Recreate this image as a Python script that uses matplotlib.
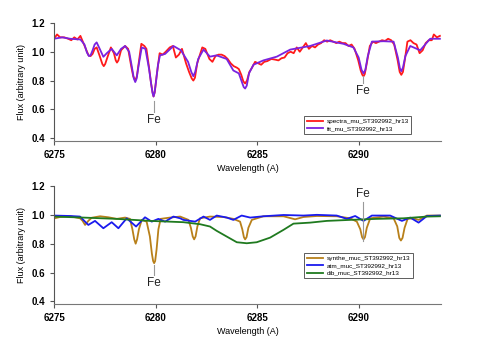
import matplotlib
matplotlib.use("Agg")
import matplotlib.pyplot as plt

# ---------------- data ----------------
spec_wl = [6275.0, 6275.15, 6275.3, 6275.5, 6275.7, 6275.85, 6276.0, 6276.15, 6276.3, 6276.45,
           6276.6, 6276.7, 6276.8, 6276.9, 6277.0, 6277.1, 6277.25, 6277.38, 6277.45, 6277.52,
           6277.65, 6277.8, 6277.95, 6278.04, 6278.1, 6278.17, 6278.3, 6278.5, 6278.65, 6278.8,
           6278.9, 6279.0, 6279.08, 6279.18, 6279.3, 6279.45, 6279.55, 6279.68, 6279.78, 6279.85,
           6279.9, 6279.96, 6280.05, 6280.2, 6280.35, 6280.5, 6280.7, 6280.85, 6281.0, 6281.15,
           6281.3, 6281.5, 6281.65, 6281.78, 6281.86, 6281.94, 6282.05, 6282.3, 6282.45, 6282.65,
           6282.8, 6282.95, 6283.1, 6283.25, 6283.4, 6283.55, 6283.7, 6283.85, 6284.0, 6284.1,
           6284.22, 6284.32, 6284.41, 6284.5, 6284.62, 6284.75, 6284.9, 6285.05, 6285.2, 6285.35,
           6285.5, 6285.7, 6285.9, 6286.05, 6286.2, 6286.35, 6286.5, 6286.65, 6286.8, 6286.95,
           6287.1, 6287.25, 6287.4, 6287.55, 6287.7, 6287.85, 6288.0, 6288.15, 6288.3, 6288.45,
           6288.6, 6288.75, 6288.9, 6289.05, 6289.2, 6289.35, 6289.5, 6289.65, 6289.8, 6289.98,
           6290.1, 6290.18, 6290.24, 6290.3, 6290.4, 6290.55, 6290.7, 6290.85, 6291.0, 6291.15,
           6291.3, 6291.45, 6291.6, 6291.75, 6291.92, 6292.02, 6292.1, 6292.18, 6292.28, 6292.4,
           6292.55, 6292.7, 6292.85, 6293.0, 6293.15, 6293.3, 6293.45, 6293.6, 6293.7, 6293.85,
           6294.0]
spec_flux = [1.09, 1.12, 1.10, 1.10, 1.09, 1.08, 1.10, 1.085, 1.11, 1.06,
             1.01, 0.975, 0.97, 0.985, 1.02, 1.03, 0.97, 0.915, 0.90, 0.915,
             0.97, 1.03, 0.99, 0.94, 0.925, 0.94, 1.01, 1.04, 1.02, 0.90,
             0.83, 0.80, 0.83, 0.93, 1.055, 1.04, 1.02, 0.89, 0.78, 0.72,
             0.69, 0.72, 0.83, 0.99, 0.98, 1.00, 1.03, 1.04, 0.96, 0.98,
             1.02, 0.92, 0.86, 0.815, 0.80, 0.82, 0.92, 1.03, 1.02, 0.95,
             0.93, 0.97, 0.98, 0.98, 0.97, 0.95, 0.92, 0.90, 0.89, 0.88,
             0.84, 0.795, 0.78, 0.80, 0.86, 0.89, 0.93, 0.92, 0.91, 0.93,
             0.935, 0.95, 0.945, 0.94, 0.955, 0.96, 0.99, 1.00, 0.99, 1.03,
             1.00, 1.03, 1.06, 1.02, 1.04, 1.03, 1.05, 1.06, 1.08, 1.07,
             1.08, 1.07, 1.06, 1.07, 1.06, 1.06, 1.04, 1.05, 1.02, 0.94,
             0.87, 0.84, 0.83, 0.845, 0.92, 1.04, 1.07, 1.06, 1.07, 1.08,
             1.075, 1.09, 1.08, 1.05, 0.94, 0.86, 0.84, 0.86, 0.95, 1.07,
             1.08, 1.06, 1.05, 0.99, 1.01, 1.06, 1.08, 1.08, 1.12, 1.10,
             1.11]

fit_wl = [6275.0, 6275.4, 6275.8, 6276.3, 6276.5, 6276.62, 6276.72, 6276.8, 6276.9, 6277.0,
          6277.1, 6277.25, 6277.43, 6277.6, 6277.84, 6278.09, 6278.3, 6278.5, 6278.7, 6278.84,
          6278.93, 6279.0, 6279.07, 6279.16, 6279.32, 6279.5, 6279.68, 6279.78, 6279.85, 6279.9,
          6279.95, 6280.02, 6280.12, 6280.22, 6280.47, 6280.88, 6281.25, 6281.6, 6281.76, 6281.86,
          6281.95, 6282.1, 6282.36, 6282.68, 6283.0, 6283.5, 6283.83, 6284.1, 6284.25, 6284.34,
          6284.41, 6284.49, 6284.6, 6284.82, 6285.31, 6285.97, 6286.63, 6287.61, 6288.43, 6289.25,
          6289.74, 6290.0, 6290.14, 6290.24, 6290.33, 6290.45, 6290.65, 6291.22, 6291.72, 6291.93,
          6292.03, 6292.1, 6292.18, 6292.3, 6292.54, 6293.03, 6293.52, 6294.0]
fit_flux = [1.09, 1.10, 1.09, 1.085, 1.05, 0.995, 0.97, 0.975, 1.01, 1.05,
            1.065, 1.02, 0.965, 0.99, 1.02, 0.975, 1.02, 1.04, 1.00, 0.89,
            0.815, 0.79, 0.815, 0.90, 1.03, 1.02, 0.88, 0.78, 0.715, 0.69,
            0.715, 0.79, 0.91, 0.975, 0.985, 1.04, 1.01, 0.93, 0.86, 0.83,
            0.86, 0.95, 1.015, 0.966, 0.975, 0.95, 0.87, 0.85, 0.79, 0.755,
            0.745, 0.765, 0.85, 0.91, 0.94, 0.966, 1.015, 1.04, 1.078, 1.055,
            1.03, 0.96, 0.875, 0.85, 0.875, 0.97, 1.07, 1.073, 1.07, 0.96,
            0.885, 0.865, 0.89, 0.97, 1.04, 1.01, 1.09, 1.09]

synthe_wl = [6275.0, 6275.3, 6275.8, 6276.28, 6276.4, 6276.53, 6276.7, 6276.86, 6277.27, 6277.68,
             6278.09, 6278.5, 6278.74, 6278.86, 6278.95, 6279.02, 6279.09, 6279.18, 6279.32, 6279.56,
             6279.72, 6279.82, 6279.88, 6279.93, 6279.98, 6280.05, 6280.14, 6280.25, 6280.71, 6281.21,
             6281.62, 6281.74, 6281.83, 6281.9, 6281.97, 6282.06, 6282.19, 6282.68, 6283.34, 6283.83,
             6284.16, 6284.27, 6284.35, 6284.41, 6284.48, 6284.57, 6284.74, 6285.31, 6286.3, 6286.87,
             6287.28, 6287.94, 6288.92, 6289.58, 6289.91, 6290.08, 6290.17, 6290.24, 6290.31, 6290.4,
             6290.57, 6291.22, 6291.72, 6291.9, 6292.0, 6292.08, 6292.16, 6292.26, 6292.41, 6292.7,
             6292.95, 6293.36, 6294.0]
synthe_flux = [0.975, 0.985, 0.99, 0.976, 0.96, 0.93, 0.96, 0.98, 0.99, 0.983,
               0.972, 0.981, 0.972, 0.90, 0.83, 0.80, 0.83, 0.90, 0.965, 0.953,
               0.85, 0.73, 0.68, 0.665, 0.68, 0.76, 0.90, 0.972, 0.981, 0.988,
               0.965, 0.91, 0.85, 0.83, 0.85, 0.92, 0.976, 0.988, 0.985, 0.972,
               0.953, 0.90, 0.845, 0.83, 0.845, 0.91, 0.965, 0.99, 0.99, 0.969,
               0.985, 0.992, 0.99, 0.976, 0.953, 0.90, 0.845, 0.83, 0.845, 0.91,
               0.976, 0.988, 0.976, 0.92, 0.84, 0.822, 0.84, 0.91, 0.972, 0.976,
               0.965, 0.995, 0.995]

atm_wl = [6275.0, 6275.79, 6276.28, 6276.69, 6277.02, 6277.43, 6277.84, 6278.17, 6278.58, 6279.04,
          6279.48, 6279.81, 6280.14, 6280.47, 6280.88, 6281.21, 6281.37, 6281.95, 6282.36, 6282.68,
          6283.01, 6283.51, 6283.83, 6284.24, 6284.66, 6285.31, 6286.3, 6287.28, 6287.94, 6288.92,
          6289.42, 6289.83, 6290.24, 6290.65, 6291.55, 6292.13, 6292.54, 6292.95, 6293.36, 6294.0]
atm_flux = [0.995, 0.992, 0.988, 0.93, 0.958, 0.907, 0.949, 0.907, 0.976, 0.919,
            0.983, 0.953, 0.972, 0.953, 0.988, 0.976, 0.965, 0.953, 0.988, 0.965,
            0.995, 0.981, 0.965, 0.995, 0.981, 0.99, 0.999, 0.995, 1.0, 0.995,
            0.972, 0.992, 0.958, 0.995, 0.995, 0.958, 0.981, 0.946, 0.992, 0.995]

dib_wl = [6275.0, 6276.44, 6278.09, 6279.73, 6281.37, 6282.19, 6282.68, 6283.01, 6283.51, 6284.0,
          6284.49, 6284.98, 6285.64, 6286.3, 6286.79, 6287.61, 6288.43, 6289.58, 6290.89, 6292.21,
          6293.36, 6294.0]
dib_flux = [0.988, 0.981, 0.972, 0.958, 0.949, 0.935, 0.919, 0.889, 0.849, 0.81,
            0.803, 0.81, 0.842, 0.896, 0.939, 0.946, 0.958, 0.965, 0.972, 0.976,
            0.988, 0.99]

x_ticks = [6275, 6280, 6285, 6290]
y_ticks = [0.4, 0.6, 0.8, 1.0, 1.2]
fe_lines = [6279.9, 6290.2]

# ---------------- figure ----------------
plt.rcParams['font.family'] = ['Liberation Sans', 'DejaVu Sans']
fig = plt.figure(figsize=(4.91, 3.47), dpi=100)
ax1 = fig.add_axes([0.110, 0.594, 0.788, 0.340])
ax2 = fig.add_axes([0.110, 0.124, 0.788, 0.340])

lw = 1.3
ax1.plot(spec_wl, spec_flux, color='#ff1a1a', lw=lw, label='spectra_mu_ST392992_hr13')
ax1.plot(fit_wl, fit_flux, color='#7a22e0', lw=lw, label='fit_mu_ST392992_hr13')

ax2.plot(synthe_wl, synthe_flux, color='#b8801a', lw=lw, label='synthe_muc_ST392992_hr13')
ax2.plot(atm_wl, atm_flux, color='#1a1aee', lw=lw, label='atm_muc_ST392992_hr13')
ax2.plot(dib_wl, dib_flux, color='#1f7a1f', lw=lw, label='dib_muc_ST392992_hr13')

# Fe annotations
gc = '#999999'
ax1.plot([fe_lines[0]] * 2, [0.66, 0.58], color=gc, lw=0.8)
ax1.text(fe_lines[0], 0.525, 'Fe', ha='center', va='center', fontsize=8.5, color='#222222')
ax1.plot([fe_lines[1]] * 2, [0.83, 0.785], color=gc, lw=0.8)
ax1.text(fe_lines[1], 0.73, 'Fe', ha='center', va='center', fontsize=8.5, color='#222222')

ax2.plot([fe_lines[0]] * 2, [0.655, 0.585], color=gc, lw=0.8)
ax2.text(fe_lines[0], 0.525, 'Fe', ha='center', va='center', fontsize=8.5, color='#222222')
ax2.plot([fe_lines[1]] * 2, [1.09, 0.82], color=gc, lw=0.8, zorder=5)
ax2.text(fe_lines[1], 1.145, 'Fe', ha='center', va='center', fontsize=8.5, color='#222222')

for ax in (ax1, ax2):
    ax.set_xlim(6275, 6294.05)
    ax.set_ylim(0.382, 1.2)
    ax.set_xticks(x_ticks)
    ax.set_xticklabels([str(t) for t in x_ticks])
    ax.set_yticks(y_ticks)
    ax.set_yticklabels(['%.1f' % v for v in y_ticks])
    ax.spines['top'].set_visible(False)
    ax.spines['right'].set_visible(False)
    ax.spines['left'].set_color('#555555')
    ax.spines['bottom'].set_color('#777777')
    ax.tick_params(direction='out', length=3, width=0.8, colors='#555555',
                   labelcolor='black', labelsize=7)
    for lab in ax.get_xticklabels() + ax.get_yticklabels():
        lab.set_fontweight('bold')
    ax.set_xlabel('Wavelength (A)', fontsize=6.5, labelpad=3)
    ax.set_ylabel('Flux (arbitrary unit)', fontsize=6.5, labelpad=4)

leg1 = ax1.legend(loc='lower right', bbox_to_anchor=(0.932, 0.03), fontsize=4.6,
                  frameon=True, fancybox=False, handlelength=2.5, borderpad=0.4,
                  labelspacing=0.3, handletextpad=0.6)
leg1.get_frame().set_edgecolor('#333333')
leg1.get_frame().set_linewidth(0.7)

leg2 = ax2.legend(loc='lower right', bbox_to_anchor=(0.936, 0.19), fontsize=4.6,
                  frameon=True, fancybox=False, handlelength=2.5, borderpad=0.4,
                  labelspacing=0.3, handletextpad=0.6)
leg2.get_frame().set_edgecolor('#333333')
leg2.get_frame().set_linewidth(0.7)

fig.savefig('out.png', dpi=100)
